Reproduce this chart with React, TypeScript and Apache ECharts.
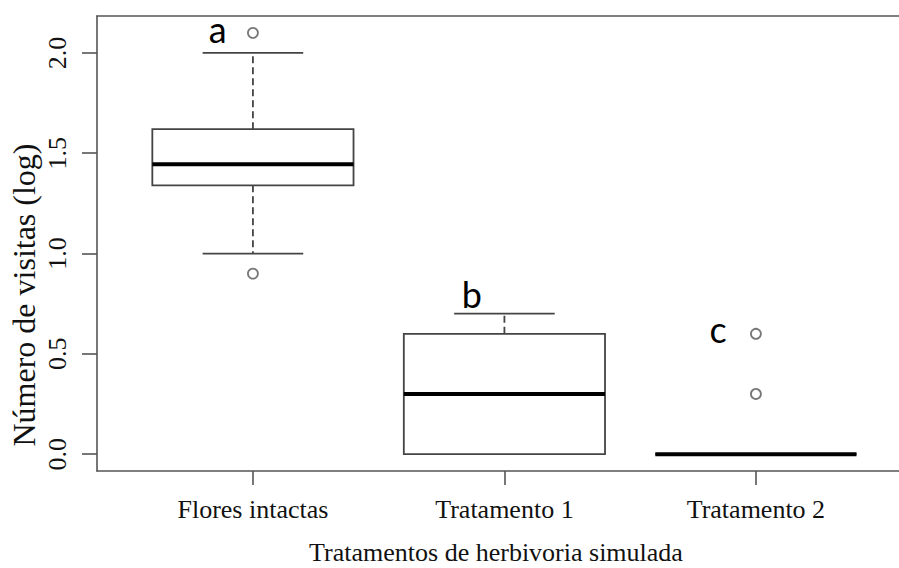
import React, { useEffect, useRef } from "react";
import * as echarts from "echarts";

const categories = ["Flores intactas", "Tratamento 1", "Tratamento 2"];
const whiskerLow = [1.0, 0.0, 0.0];
const q1 = [1.34, 0.0, 0.0];
const median = [1.445, 0.3, 0.0];
const q3 = [1.62, 0.6, 0.0];
const whiskerHigh = [2.0, 0.7, 0.0];
const outlierX = [1, 1, 3, 3];
const outlierY = [2.1, 0.9, 0.6, 0.3];
const letters = ["a", "b", "c"];
const letterX = [0.86, 1.87, 2.85];
const letterY = [2.12, 0.8, 0.625];
const yTicks = [0, 0.5, 1, 1.5, 2];
const xTicks = [1, 2, 3];
const yTitle = "Número de visitas (log)";
const xTitle = "Tratamentos de herbivoria simulada";

export default function App() {
  const ref = useRef<HTMLDivElement>(null);
  useEffect(() => {
    if (!ref.current) return;
    const chart = echarts.init(ref.current, null, { renderer: "svg" });
    const boxData = categories.map((_, i) => [i + 1, whiskerLow[i], q1[i], median[i], q3[i], whiskerHigh[i]]);
    const lineColor = "#444";
    const frame = { color: "#555", width: 1.6 };
    const serif = "Liberation Serif";
    chart.setOption({
      animation: false,
      backgroundColor: "#fff",
      grid: { left: 97, top: 16, bottom: 97, right: 0 },
      xAxis: [
        {
          type: "value",
          position: "bottom",
          min: 0.38,
          max: 3.569,
          axisLine: { show: true, onZero: false, lineStyle: frame },
          splitLine: { show: false },
          axisTick: { show: true, inside: false, customValues: xTicks, length: 14, lineStyle: frame },
          axisLabel: {
            customValues: xTicks,
            formatter: (v: number) => categories[Math.round(v) - 1] ?? "",
            fontFamily: serif,
            fontSize: 26,
            color: "#111",
            margin: 25,
          },
        },
        {
          type: "value",
          position: "top",
          min: 0.38,
          max: 3.569,
          axisLine: { show: true, onZero: false, lineStyle: frame },
          splitLine: { show: false },
          axisTick: { show: false },
          axisLabel: { show: false },
        },
      ],
      yAxis: {
        type: "value",
        min: -0.084,
        max: 2.184,
        axisLine: { show: true, onZero: false, lineStyle: frame },
        splitLine: { show: false },
        axisTick: { show: true, inside: false, customValues: yTicks, length: 15, lineStyle: frame },
        axisLabel: {
          customValues: yTicks,
          formatter: (v: number) => v.toFixed(1),
          rotate: 90,
          fontFamily: serif,
          fontSize: 26,
          color: "#111",
          margin: 27,
        },
      },
      graphic: [
        {
          type: "text",
          x: 24,
          y: 295,
          rotation: Math.PI / 2,
          style: {
            text: yTitle,
            font: `32px ${serif}`,
            fill: "#111",
            align: "center",
            verticalAlign: "middle",
          },
        },
        {
          type: "text",
          x: 496,
          y: 552,
          style: {
            text: xTitle,
            font: `26px ${serif}`,
            fill: "#111",
            align: "center",
            verticalAlign: "middle",
          },
        },
      ],
      series: [
        {
          type: "custom",
          clip: false,
          data: boxData,
          encode: { x: 0, y: [1, 2, 3, 4, 5] },
          renderItem: (params: any, api: any) => {
            const x = api.value(0);
            const lo = api.coord([x, api.value(1)]);
            const b1 = api.coord([x, api.value(2)]);
            const md = api.coord([x, api.value(3)]);
            const b3 = api.coord([x, api.value(4)]);
            const hi = api.coord([x, api.value(5)]);
            const cx = lo[0];
            const half = api.size([0.8, 0])[0] / 2;
            const capHalf = api.size([0.4, 0])[0] / 2;
            const solid = { stroke: lineColor, lineWidth: 1.8 };
            const dashed = { stroke: lineColor, lineWidth: 1.8, lineDash: [7, 4] };
            return {
              type: "group",
              children: [
                { type: "line", shape: { x1: cx, y1: b3[1], x2: cx, y2: hi[1] }, style: dashed },
                { type: "line", shape: { x1: cx, y1: b1[1], x2: cx, y2: lo[1] }, style: dashed },
                { type: "line", shape: { x1: cx - capHalf, y1: hi[1], x2: cx + capHalf, y2: hi[1] }, style: solid },
                { type: "line", shape: { x1: cx - capHalf, y1: lo[1], x2: cx + capHalf, y2: lo[1] }, style: solid },
                {
                  type: "rect",
                  shape: { x: cx - half, y: b3[1], width: half * 2, height: b1[1] - b3[1] },
                  style: { fill: "#fff", stroke: lineColor, lineWidth: 1.8 },
                },
                {
                  type: "line",
                  shape: { x1: cx - half, y1: md[1], x2: cx + half, y2: md[1] },
                  style: { stroke: "#000", lineWidth: 4 },
                },
              ],
            };
          },
          z: 2,
        },
        {
          type: "scatter",
          data: outlierX.map((x, i) => [x, outlierY[i]]),
          symbol: "circle",
          symbolSize: 10,
          itemStyle: { color: "#fff", borderColor: "#555", borderWidth: 1.8 },
          z: 3,
        },
        {
          type: "custom",
          clip: false,
          data: letters.map((_, i) => [letterX[i], letterY[i]]),
          renderItem: (params: any, api: any) => {
            const p = api.coord([api.value(0), api.value(1)]);
            return {
              type: "text",
              x: p[0],
              y: p[1],
              style: {
                text: letters[params.dataIndex],
                font: "36px Lato",
                fill: "#000",
                align: "center",
                verticalAlign: "middle",
              },
            };
          },
          z: 4,
        },
      ],
    });
    return () => chart.dispose();
  }, []);
  return <div ref={ref} style={{ position: "fixed", left: 0, top: 0, width: 899, height: 568 }} />;
}
